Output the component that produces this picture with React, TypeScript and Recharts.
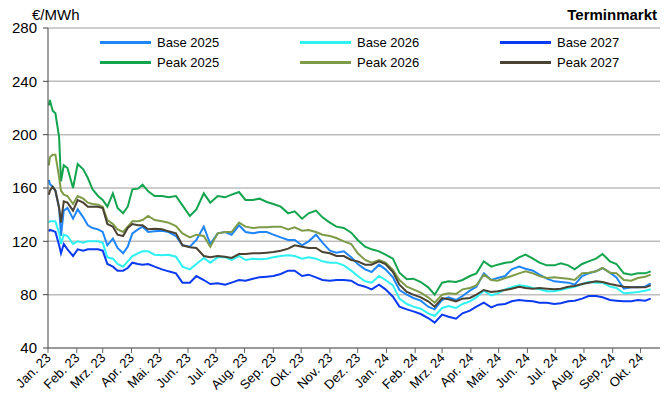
import { CartesianGrid, Line, LineChart, XAxis, YAxis } from "recharts";

const dates = [
  "2023-01-02", "2023-01-03", "2023-01-06", "2023-01-09", "2023-01-13", "2023-01-15", "2023-01-18", "2023-01-22", "2023-01-28",
  "2023-02-02", "2023-02-08", "2023-02-13", "2023-02-18", "2023-02-24",
  "2023-03-01", "2023-03-06", "2023-03-12", "2023-03-17", "2023-03-23", "2023-03-28",
  "2023-04-02", "2023-04-08", "2023-04-13", "2023-04-19", "2023-04-26",
  "2023-05-04", "2023-05-11", "2023-05-19", "2023-05-26",
  "2023-06-03", "2023-06-10", "2023-06-18", "2023-06-25",
  "2023-07-03", "2023-07-11", "2023-07-18", "2023-07-26",
  "2023-08-02", "2023-08-10", "2023-08-17", "2023-08-25",
  "2023-09-01", "2023-09-09", "2023-09-17", "2023-09-24",
  "2023-10-02", "2023-10-09", "2023-10-17", "2023-10-24",
  "2023-11-01", "2023-11-08", "2023-11-16", "2023-11-24",
  "2023-12-01", "2023-12-09", "2023-12-16", "2023-12-24", "2023-12-31",
  "2024-01-08", "2024-01-15", "2024-01-23", "2024-01-30",
  "2024-02-07", "2024-02-15", "2024-02-22",
  "2024-03-01", "2024-03-08", "2024-03-16", "2024-03-23", "2024-03-31",
  "2024-04-07", "2024-04-15", "2024-04-23", "2024-04-30",
  "2024-05-08", "2024-05-15", "2024-05-23", "2024-05-30",
  "2024-06-07", "2024-06-14", "2024-06-22", "2024-06-30",
  "2024-07-07", "2024-07-15", "2024-07-22", "2024-07-30",
  "2024-08-06", "2024-08-14", "2024-08-21", "2024-08-29",
  "2024-09-05", "2024-09-13", "2024-09-21", "2024-09-28",
  "2024-10-06", "2024-10-12"
];

const base2025 = [
  166, 163, 161, 158, 145, 124, 143, 145, 137, 144, 138, 132, 130, 129, 127, 117, 122, 115, 111, 116, 126, 129, 131, 127,
  127.5, 128, 127, 124, 117, 116, 121, 131, 118, 126, 127, 125, 132, 127,
  126, 127, 127, 125, 123, 121, 121, 117, 120, 125, 119, 113, 111.5, 112.5,
  108, 103, 99, 97, 102.5, 99, 93, 83.5, 80, 77.5, 75.5, 71, 69, 76,
  78, 76, 79, 83, 86, 96, 91, 92.5, 94, 99, 101, 99.5, 98, 95, 92,
  90, 89.5, 89, 87.5, 94, 96, 97.5, 100, 96.5, 93, 84.5, 85.5, 85.5, 86, 88.5
];

const base2026 = [
  134, 135, 135, 135, 126, 118, 125, 124, 118, 120, 119, 120, 120, 120, 119, 108, 107, 103, 101, 105, 109, 111, 112.5, 112.5,
  110, 109.5, 110, 108.5, 101, 99, 103, 107.5, 104, 108, 108, 106, 109, 106,
  107, 106.5, 107, 108, 109, 109.5, 109, 107, 108, 107, 105, 104, 104, 102,
  98, 94, 90, 89, 94, 91, 87, 77, 73, 71, 69.5, 66, 64, 70,
  71.5, 70, 73, 75, 78, 83, 79.5, 81, 84, 85.5, 87, 86.5, 85, 84, 82.5,
  82.5, 83.5, 85, 86, 88, 89.5, 89, 89, 86, 85, 81, 81.5, 82, 83, 84
];

const base2027 = [
  127.5, 128.5, 128, 127, 117, 111, 118, 114, 109, 114, 113, 114, 114, 114, 113, 103, 101, 98, 98, 100, 104, 103, 102.5, 103,
  101, 99, 97.5, 96, 89, 89, 94, 91, 88, 88.5, 87.5, 89, 91, 90.5,
  92, 93, 93.5, 94, 95.5, 98, 98, 94, 95, 93, 91, 90.5, 91, 91,
  90.5, 87.5, 86, 84, 87.5, 84, 78.5, 71, 69, 67.5, 65.5, 62.5, 59, 65,
  63.5, 62, 66, 68, 71, 74, 70.5, 72.5, 73, 75, 76, 75.5, 75, 74, 74,
  73, 73.5, 75, 75.5, 77, 79, 79, 78, 76, 75.5, 75, 75, 76, 75.5, 77
];

const peak2025 = [
  222, 226, 218, 216, 198, 165, 177, 175, 160, 178, 174, 167.5, 159, 154, 151, 146, 156, 145, 141, 146, 159, 159.5, 162.5, 157.5,
  154, 154, 153, 154, 147, 139, 144, 156, 149, 154, 153, 155, 157, 151,
  151, 152, 149.5, 148, 146, 141, 142.5, 137, 141, 143, 138, 134, 131, 130,
  126.5, 121, 116, 114, 112.5, 110, 107, 96.5, 91.5, 92, 89.5, 85.5, 80, 89,
  90, 89.5, 91, 94, 96, 105, 101, 102.5, 104, 104.5, 108, 110, 107, 104, 102,
  102, 103.5, 102, 99, 103, 105, 107, 110.5, 105, 103, 96, 95, 96, 96, 97.5
];

const peak2026 = [
  177, 183, 185, 185, 168, 158, 155, 154, 148, 154, 152, 149, 148, 147.5, 146, 136, 133, 129, 127, 131, 135, 135, 136, 139,
  136, 135, 134, 131.5, 126, 123, 125, 124, 116, 126, 127, 127, 134, 131,
  130, 130.5, 130.5, 131, 131, 129, 130.5, 128, 128.5, 127, 125, 124, 122.5, 120,
  118, 111, 106, 104, 106, 104, 98.5, 91, 86, 84, 81.5, 78, 74, 80,
  81, 80.5, 84, 85, 87, 95, 91, 90.5, 92.5, 94, 96, 97.5, 96, 94, 92.5,
  93, 92.5, 92, 91, 96, 96.5, 97.5, 100, 96.5, 96, 91, 90.5, 92.5, 93.5, 95
];

const peak2027 = [
  155, 158, 161, 158, 145, 134, 150, 149, 143, 151, 149, 146, 146, 146, 145, 133, 131, 125, 124, 130, 133, 132, 132, 129,
  129.5, 129, 127.5, 126, 117, 115.5, 115, 109, 108, 109, 108.5, 107.5, 110.5, 110.5,
  111, 111, 111.5, 112, 113, 114.5, 117, 116, 115, 115, 112, 111, 109, 109,
  106, 105, 102.5, 102.5, 105, 103, 97, 87.5, 82, 80, 78, 75, 71, 77.5,
  76.5, 75, 77, 77.5, 80, 83.5, 82, 82.5, 83.5, 84.5, 86, 85, 84.5, 85, 84.5,
  84, 84.5, 86, 86.5, 88, 89, 90, 89.5, 88, 87, 86, 85.5, 85.5, 85.5, 87
];

const monthLabels = [
  "Jan. 23", "Feb. 23", "Mrz. 23", "Apr. 23", "Mai. 23", "Jun. 23", "Jul. 23", "Aug. 23", "Sep. 23", "Okt. 23", "Nov. 23", "Dez. 23",
  "Jan. 24", "Feb. 24", "Mrz. 24", "Apr. 24", "Mai. 24", "Jun. 24", "Jul. 24", "Aug. 24", "Sep. 24", "Okt. 24"
];

const yTicks = [40, 80, 120, 160, 200, 240, 280];

const font = "Arial, 'Liberation Sans', sans-serif";
const DAY_MS = 86400000;
const origin = Date.UTC(2023, 0, 1);
const dayOf = (iso: string) => (Date.parse(iso) - origin) / DAY_MS;
const monthTicks = monthLabels.map((_, i) => (Date.UTC(2023, i, 1) - origin) / DAY_MS);

const series = [
  { key: "base2025", name: "Base 2025", values: base2025, color: "#1F86FA" },
  { key: "base2026", name: "Base 2026", values: base2026, color: "#2EF2F2" },
  { key: "base2027", name: "Base 2027", values: base2027, color: "#0A3AF2" },
  { key: "peak2025", name: "Peak 2025", values: peak2025, color: "#12A54E" },
  { key: "peak2026", name: "Peak 2026", values: peak2026, color: "#7E9B48" },
  { key: "peak2027", name: "Peak 2027", values: peak2027, color: "#4A4232" }
];

const data = dates.map((d, i) => {
  const row: Record<string, number> = { day: dayOf(d) };
  series.forEach((s) => {
    row[s.key] = s.values[i];
  });
  return row;
});

function MonthTick({ x, y, payload }: any) {
  const idx = monthTicks.indexOf(payload.value);
  return (
    <g transform={`translate(${x},${y})`}>
      <text textAnchor="end" transform="rotate(-45)" dy={5} fontSize={13} fontFamily={font} fill="#000">
        {monthLabels[idx]}
      </text>
    </g>
  );
}

export default function App() {
  return (
    <div style={{ position: "absolute", left: 0, top: 0, width: 669, height: 403, background: "#fff", fontFamily: font }}>
      <div style={{ position: "absolute", left: 32, top: 6, fontSize: 15 }}>€/MWh</div>
      <div style={{ position: "absolute", right: 12, top: 6, fontSize: 15, fontWeight: "bold" }}>Terminmarkt</div>
      <LineChart width={669} height={403} data={data} margin={{ top: 28, right: 9, bottom: 0, left: 0 }}>
        <CartesianGrid vertical={false} stroke="#BDBDBD" strokeWidth={1.5} />
        <XAxis
          type="number"
          dataKey="day"
          domain={[0, 660]}
          ticks={monthTicks}
          interval={0}
          tick={<MonthTick />}
          tickSize={5}
          height={55}
          axisLine={{ stroke: "#666" }}
          tickLine={{ stroke: "#666" }}
        />
        <YAxis
          domain={[40, 280]}
          ticks={yTicks}
          width={48}
          tickSize={5}
          tickMargin={6}
          tick={{ fontSize: 15, fill: "#000", fontFamily: font }}
          axisLine={{ stroke: "#444" }}
          tickLine={{ stroke: "#444" }}
        />
        {series.map((s) => (
          <Line
            key={s.key}
            type="linear"
            dataKey={s.key}
            name={s.name}
            stroke={s.color}
            strokeWidth={2}
            dot={false}
            isAnimationActive={false}
          />
        ))}
      </LineChart>
      {series.map((s, i) => (
        <div
          key={s.key}
          style={{
            position: "absolute",
            left: 100 + (i % 3) * 200,
            top: 34 + Math.floor(i / 3) * 20,
            height: 16,
            display: "flex",
            alignItems: "center",
            fontSize: 13
          }}
        >
          <span style={{ display: "inline-block", width: 51, height: 3, background: s.color }} />
          <span style={{ marginLeft: 6 }}>{s.name}</span>
        </div>
      ))}
    </div>
  );
}
